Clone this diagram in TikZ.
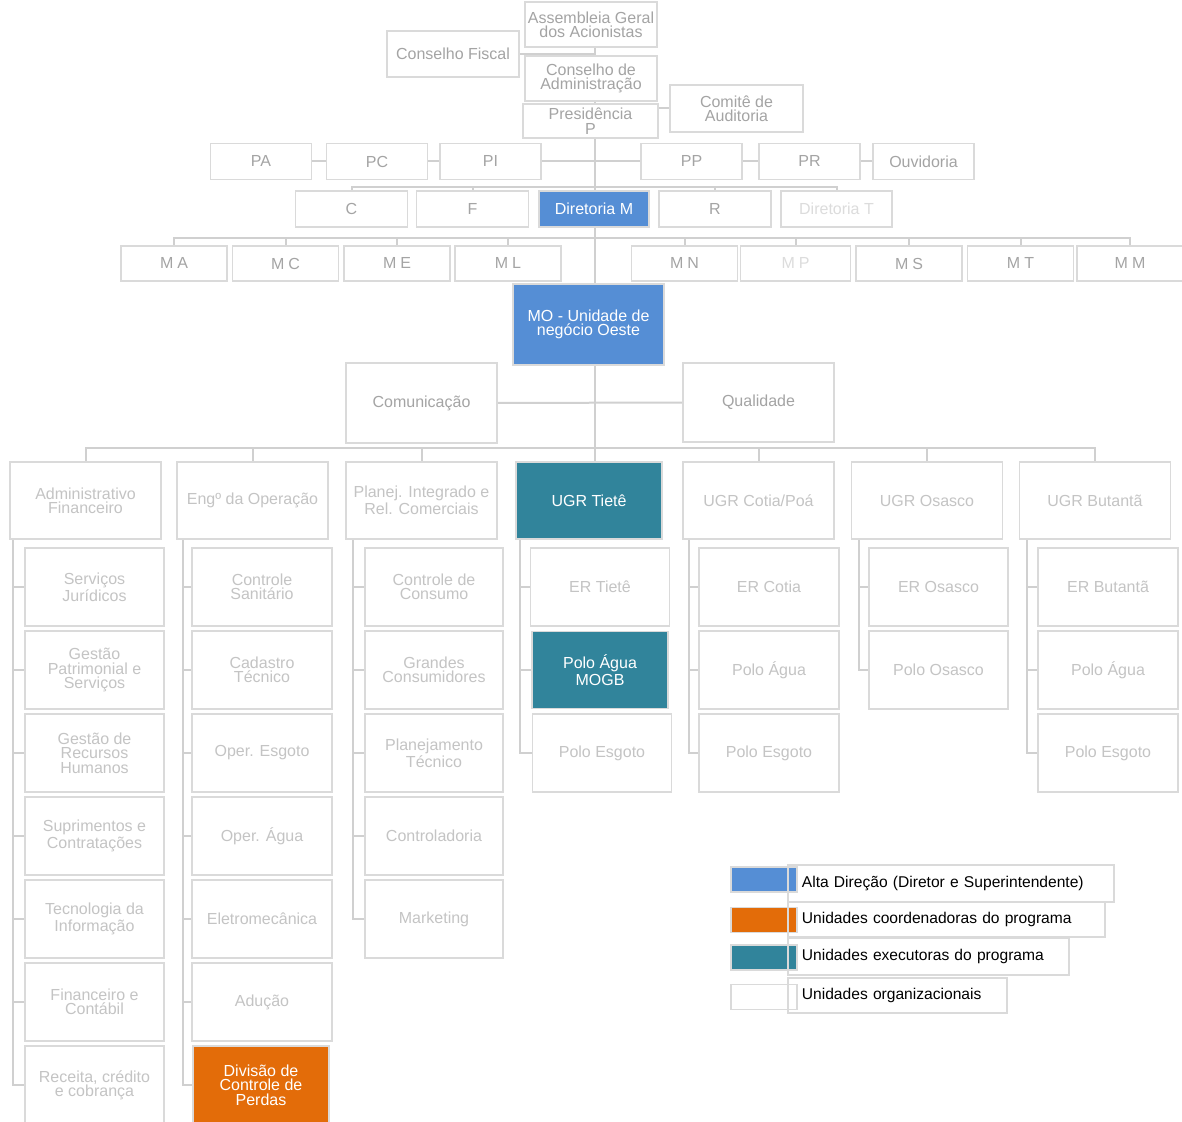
\documentclass[tikz,border=0pt]{standalone}
\usepackage{fontspec}
\setmainfont{Liberation Sans}
\usetikzlibrary{backgrounds}
\definecolor{azul}{HTML}{558ED5}
\definecolor{verde}{HTML}{31849B}
\definecolor{laranja}{HTML}{E36C09}
\definecolor{borda}{HTML}{DADADA}
\definecolor{linha}{HTML}{D0D0D0}
\definecolor{cinza}{HTML}{A4A4A4}
\definecolor{claro}{HTML}{C4C4C4}
\definecolor{palido}{HTML}{DCDCDC}

\begin{document}
\begin{tikzpicture}[x=0.5pt,y=-0.5pt,
        sz/.style 2 args={minimum width=#1*0.5pt,minimum height=#2*0.5pt},
        cx/.style={draw=borda, line width=0.9pt, fill=white, inner sep=1pt,
                        align=center, font=\fontsize{8}{7.2}\selectfont, text=claro},
        cxt/.style={cx, text=cinza},
        cxm/.style={cxt, font=\fontsize{8}{7.2}\selectfont\addfontfeatures{LetterSpace=25}},
        cxa/.style={cx, fill=azul, text=white},
        cxv/.style={cx, fill=verde, text=white},
        cxl/.style={cx, fill=laranja, text=white},
        sw/.style={draw=borda, line width=0.9pt, sz={66}{25}},
        lt/.style={draw=borda, line width=0.9pt, anchor=west, inner xsep=7pt,
                        align=left, font=\fontsize{7.8}{9}\selectfont, text=black},
        lig/.style={draw=linha, line width=1pt}]
    \useasboundingbox (0,0) rectangle (1182,1122);

    \node[cxt, sz={132}{45}] (ag) at (591,24.5) {Assembleia Geral\\dos Acionistas};
    \node[cxt, sz={132}{46}] (cf) at (453,54) {Conselho Fiscal};
    \node[cxt, sz={132}{45}] (ca) at (591,78.5) {Conselho de\\Administração};
    \node[cxt, sz={133}{47}] (cau) at (736.5,108.5) {Comitê de\\Auditoria};
    \node[cxt, sz={135}{34}] (pres) at (590.5,121) {Presidência\\P};

    \foreach \n/\x/\s in {pa/261/PA, pc/377/PC, pi/490.5/PI,
                pp/691.5/PP, pr/809.5/PR, ouv/923.5/Ouvidoria}
        \node[cxt, sz={101}{36}] (\n) at (\x,161.5) {\s};

    \foreach \n/\x/\s in {c/351.5/C, f/472.5/F, r/715/R}
        \node[cxt, sz={112}{36}] (\n) at (\x,209) {\s};
    \node[cxa, sz={110}{36}] (dm) at (594,209) {Diretoria M};
    \node[cxt, sz={111}{36}, text=palido] (dt) at (836.5,209) {Diretoria T};

    \foreach \n/\x/\s in {ma/174/MA, mc/285.5/MC, me/397/ME, ml/508/ML,
                mn/684.5/MN, ms/909/MS, mt/1020.5/MT, mm/1130/MM}
        \node[cxm, sz={106}{35}] (\n) at (\x,263.5) {\s};
    \node[cxm, sz={110}{35}, text=palido] (mp) at (795.5,263.5) {MP};

    \node[cxa, sz={151}{81}] (mo) at (588.5,324.5) {MO - Unidade de\\negócio Oeste};
    \node[cxt, sz={151}{80}] (com) at (421.5,403) {Comunicação};
    \node[cxt, sz={151}{79}] (qual) at (758.5,402.5) {Qualidade};

    \foreach \n/\x/\s in {adm/85.5/{Administrativo\\Financeiro},
                eng/252.5/{Engº da Operação},
                plan/421.5/{Planej. Integrado e\\Rel. Comerciais},
                ugr2/758.5/{UGR Cotia/Poá}, ugr3/927/{UGR Osasco},
                ugr4/1095/{UGR Butantã}}
        \node[cx, sz={151}{77}] (\n) at (\x,500.5) {\s};
    \node[cxv, sz={146}{77}] (ugr1) at (589,500.5) {UGR Tietê};

    \foreach \n/\s [count=\i from 0] in {sj/{Serviços\\Jurídicos},
                gp/{Gestão\\Patrimonial e\\Serviços}, rh/{Gestão de\\Recursos\\Humanos},
                su/{Suprimentos e\\Contratações}, ti/{Tecnologia da\\Informação},
                fc/{Financeiro e\\Contábil}, rc/{Receita, crédito\\e cobrança}}
        \node[cx, sz={139}{78}] (\n) at (94.5,{587+83*\i}) {\s};

    \foreach \n/\s [count=\i from 0] in {cs/{Controle\\Sanitário},
                ct/{Cadastro\\Técnico}, oe/{Oper. Esgoto}, oa/{Oper. Água},
                el/{Eletromecânica}, ad/{Adução}}
        \node[cx, sz={140}{78}] (\n) at (262,{587+83*\i}) {\s};
    \node[cxl, sz={136}{78}] (dcp) at (261,1085) {Divisão de\\Controle de\\Perdas};

    \foreach \n/\s [count=\i from 0] in {cc/{Controle de\\Consumo},
                gc/{Grandes\\Consumidores}, pt/{Planejamento\\Técnico},
                ctl/{Controladoria}, mk/{Marketing}}
        \node[cx, sz={138}{78}] (\n) at (434,{587+83*\i}) {\s};

    \node[cx, sz={139}{78}] (ert) at (600,587) {ER Tietê};
    \node[cxv, sz={136}{77}] (pam) at (600,670) {Polo Água\\MOGB};
    \node[cx, sz={139}{78}] (pet) at (602,753) {Polo Esgoto};

    \foreach \n/\s [count=\i from 0] in {erc/{ER Cotia}, pac/{Polo Água},
                pec/{Polo Esgoto}}
        \node[cx, sz={140}{78}] (\n) at (769,{587+83*\i}) {\s};

    \foreach \n/\s [count=\i from 0] in {ero/{ER Osasco}, po/{Polo Osasco}}
        \node[cx, sz={139}{78}] (\n) at (938.5,{587+83*\i}) {\s};

    \foreach \n/\s [count=\i from 0] in {erb/{ER Butantã}, pab/{Polo Água},
                peb/{Polo Esgoto}}
        \node[cx, sz={140}{78}] (\n) at (1108,{587+83*\i}) {\s};

    \foreach \n/\c/\y in {la/azul/879.5, lb/laranja/920, lc/verde/957.5, ld/white/997}
        \node[sw, fill=\c] (\n) at (764,\y) {};
    \node[lt, text width=149pt, minimum height=18.5pt] (ta) at (787,883.5)
        {Alta Direção (Diretor e Superintendente)};
    \node[lt, text width=144.5pt, minimum height=17.5pt] (tb) at (787,919.5)
        {Unidades coordenadoras do programa};
    \node[lt, text width=126.5pt, minimum height=18.5pt] (tc) at (787,956.5)
        {Unidades executoras do programa};
    \node[lt, text width=95.5pt, minimum height=17.5pt] (td) at (787,995.5)
        {Unidades organizacionais};

    \begin{scope}[on background layer]
        \coordinate (sp) at (595,0);
        \coordinate (b3) at (595,187);
        \coordinate (b4) at (595,238);
        \coordinate (b5) at (595,448);
        \draw[lig] (sp |- ag.south) -- (sp |- ugr1.north);
        \draw[lig] (cf) -- (cf -| sp);
        \draw[lig] (cau) -- (cau -| sp);
        \draw[lig] (pa) -- (pc) -- (pi) -- (pp) -- (pr) -- (ouv);
        \draw[lig] (c) |- (b3) -| (dt);
        \foreach \n in {f,r}
            \draw[lig] (\n) -- (\n |- b3);
        \draw[lig] (ma) |- (b4) -| (mm);
        \foreach \n in {mc,me,ml,mn,mp,ms,mt}
            \draw[lig] (\n) -- (\n |- b4);
        \draw[lig] (com) -- (qual);
        \draw[lig] (adm) |- (b5) -| (ugr4);
        \foreach \n in {eng,plan,ugr2,ugr3}
            \draw[lig] (\n) -- (\n |- b5);
        \foreach \k/\x/\l in {k1/13/{sj,gp,rh,su,ti,fc,rc},
                    k2/183/{cs,ct,oe,oa,el,ad,dcp}, k3/353/{cc,gc,pt,ctl,mk},
                    k4/520/{ert,pam,pet}, k5/689/{erc,pac,pec},
                    k6/859/{ero,po}, k7/1027/{erb,pab,peb}} {
            \coordinate (\k) at (\x,539);
            \foreach \n in \l
                \draw[lig] (\k) |- (\n);
        }
    \end{scope}
\end{tikzpicture}
\end{document}
